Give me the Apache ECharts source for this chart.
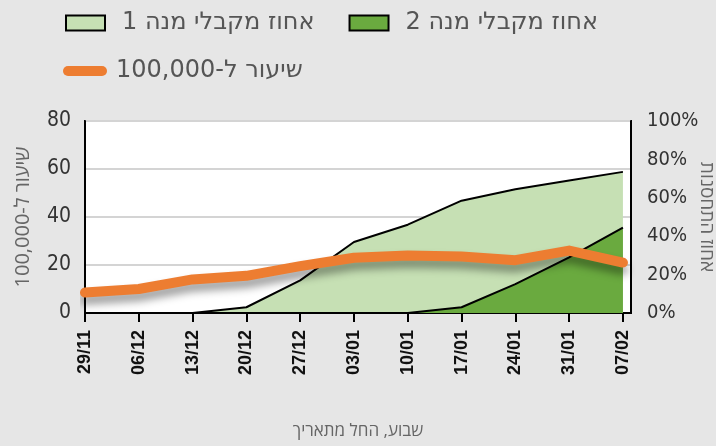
<!DOCTYPE html>
<html><head><meta charset="utf-8">
<script src="https://cdn.jsdelivr.net/npm/echarts@6/dist/echarts.min.js"></script>
<style>html,body{margin:0;padding:0;background:#e6e6e6;}#c{width:716px;height:446px;}</style>
</head><body><div id="c"></div>
<script>
const categories = ['29/11','06/12','13/12','20/12','27/12','03/01','10/01','17/01','24/01','31/01','07/02'];
const rate = [8.5, 10, 14, 15.5, 19.5, 23, 24, 23.5, 22, 26, 21];
const dose1 = [0, 0, 0, 3, 17, 37, 46, 58.5, 64.5, 69, 73.5];
const dose2 = [0, 0, 0, 0, 0, 0, 0, 3, 15, 29, 44.5];
const leftTicks = [0, 20, 40, 60, 80];
const rightTicks = [0, 20, 40, 60, 80, 100];

const NAME1 = 'אחוז מקבלי מנה 1';
const NAME2 = 'אחוז מקבלי מנה 2';
const NAME3 = 'שיעור ל-100,000';
const pts = arr => arr.map((v, i) => [i, v]);
const idx = categories.map((c, i) => i);
const HEB = '"Open Sans", "DejaVu Sans Condensed", sans-serif';
const LEG = '"DejaVu Sans", sans-serif';
const COND = '"DejaVu Sans Condensed", "Liberation Sans Narrow", "Liberation Sans", sans-serif';

const chart = echarts.init(document.getElementById('c'));
chart.setOption({
  backgroundColor: '#e6e6e6',
  animation: false,
  legend: [
    { left: 60, top: 6, itemWidth: 39, itemHeight: 15, itemGap: 34,
      textStyle: { fontSize: 24, color: '#555', fontFamily: LEG, padding: [0, 0, 0, 12] },
      data: [
        { name: NAME1, icon: 'rect', itemStyle: { color: '#c6e0b4', borderColor: '#000', borderWidth: 2 } },
        { name: NAME2, icon: 'rect', itemStyle: { color: '#6aaa3f', borderColor: '#000', borderWidth: 2 } }
      ] },
    { left: 58, top: 54, itemWidth: 44, itemHeight: 10,
      textStyle: { fontSize: 24, color: '#555', fontFamily: LEG, padding: [0, 0, 0, 4] },
      data: [ { name: NAME3, icon: 'path://M5,0 L39,0 A5,5 0 0 1 39,10 L5,10 A5,5 0 0 1 5,0 Z', itemStyle: { color: '#ed7d31' } } ] }
  ],
  grid: { left: 85, right: 85, top: 121, bottom: 133, outerBoundsMode: 'none', containLabel: false,
    show: true, backgroundColor: '#fff', borderColor: '#000', borderWidth: 2 },
  xAxis: {
    type: 'value', min: 0, max: 10.15,
    name: 'שבוע, החל מתאריך', nameLocation: 'middle', nameGap: 110, nameMoveOverlap: false,
    nameTextStyle: { fontSize: 17, color: '#666', fontFamily: HEB },
    axisLine: { lineStyle: { color: '#000', width: 2 } },
    axisTick: { show: true, length: 9, lineStyle: { color: '#000', width: 2 }, customValues: idx },
    splitLine: { show: false },
    axisLabel: { customValues: idx, rotate: 90, margin: 17, fontSize: 18, fontWeight: 'bold', color: '#111',
      fontFamily: 'Liberation Sans, Arial, sans-serif',
      formatter: v => categories[Math.round(v)] }
  },
  yAxis: [
    { type: 'value', min: 0, max: 80, interval: 20, position: 'left',
      name: NAME3, nameLocation: 'middle', nameGap: 52, nameRotate: 90, nameMoveOverlap: false,
      nameTextStyle: { fontSize: 20, color: '#666', fontFamily: HEB },
      axisLine: { show: true, lineStyle: { color: '#000', width: 2 } },
      axisTick: { show: false },
      splitLine: { show: true, lineStyle: { color: '#d4d4d4', width: 2 } },
      axisLabel: { fontSize: 21, color: '#333', margin: 14, fontFamily: COND, customValues: leftTicks } },
    { type: 'value', min: 0, max: 100, interval: 20, position: 'right',
      name: 'אחוז התחסנות', nameLocation: 'middle', nameGap: 66, nameRotate: -90, nameMoveOverlap: false,
      nameTextStyle: { fontSize: 19, color: '#666', fontFamily: HEB },
      axisLine: { show: true, lineStyle: { color: '#000', width: 2 } },
      axisTick: { show: false },
      splitLine: { show: false },
      axisLabel: { fontSize: 20, color: '#333', margin: 16, fontFamily: COND, formatter: '{value}%', customValues: rightTicks } }
  ],
  series: [
    { name: NAME1, type: 'line', yAxisIndex: 1, data: pts(dose1), symbol: 'none',
      lineStyle: { color: '#000', width: 2 }, itemStyle: { color: '#c6e0b4' },
      areaStyle: { color: '#c6e0b4', opacity: 1 }, z: 2 },
    { name: NAME2, type: 'line', yAxisIndex: 1, data: pts(dose2), symbol: 'none',
      lineStyle: { color: '#000', width: 2 }, itemStyle: { color: '#6aaa3f' },
      areaStyle: { color: '#6aaa3f', opacity: 1 }, z: 3 },
    { name: NAME3, type: 'line', yAxisIndex: 0, data: pts(rate), symbol: 'none',
      lineStyle: { color: '#ed7d31', width: 10, cap: 'round', join: 'round',
        shadowColor: 'rgba(0,0,0,0.4)', shadowBlur: 9, shadowOffsetY: 7 },
      itemStyle: { color: '#ed7d31' }, z: 4 }
  ]
});
</script></body></html>
